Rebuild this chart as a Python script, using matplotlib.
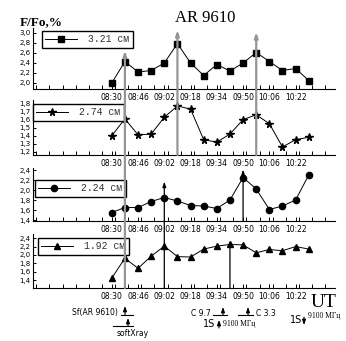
import matplotlib
matplotlib.use('Agg')
import matplotlib.pyplot as plt
from matplotlib.patches import ConnectionPatch
from matplotlib.ticker import FuncFormatter, MultipleLocator

W, H = 346, 341

# observation times (UT) and relative flux F/Fo for the four wavelengths
times = ['08:30', '08:38', '08:46', '08:54', '09:02', '09:10', '09:18', '09:26',
         '09:34', '09:42', '09:50', '09:58', '10:06', '10:14', '10:22', '10:30']
flux_321 = [2.00, 2.43, 2.22, 2.25, 2.40, 2.79, 2.40, 2.15,
            2.37, 2.24, 2.40, 2.61, 2.43, 2.25, 2.29, 2.05]
flux_274 = [1.40, 1.61, 1.41, 1.42, 1.63, 1.77, 1.73, 1.35,
            1.32, 1.42, 1.60, 1.66, 1.55, 1.26, 1.35, 1.38]
flux_224 = [1.55, 1.65, 1.65, 1.77, 1.85, 1.78, 1.69, 1.68,
            1.63, 1.80, 2.25, 2.02, 1.61, 1.68, 1.80, 2.30]
flux_192 = [1.45, 1.92, 1.68, 1.97, 2.21, 1.96, 1.95, 2.14,
            2.21, 2.25, 2.24, 2.05, 2.13, 2.10, 2.20, 2.14]
labels = ['3.21 см', '2.74 см', '2.24 см', '1.92 см']
markers = ['s', '*', 'o', '^']
tick_labels = ['08:30', '08:46', '09:02', '09:18', '09:34', '09:50', '10:06', '10:22']

# event lines: time, arrow tip value, first panel, last panel
gray_events = [('08:38', 2.65, 0, 3), ('09:10', 3.06, 0, 1), ('09:58', 3.02, 0, 1)]
black_events = [('09:02', 2.17, 2, 3), ('09:50', 2.41, 2, 2), ('09:42', 2.34, 3, 3)]


def to_min(t):
    h, m = t.split(':')
    return int(h) * 60 + int(m)


x = [to_min(t) for t in times]
series = [flux_321, flux_274, flux_224, flux_192]

# panel boxes in pixels (left, top, right, bottom) and y limits
boxes = [(33, 28, 335, 88.5), (33, 99.5, 335, 155), (33, 167.5, 335, 221), (33, 234, 335, 288)]
ylims = [(1.89, 3.1), (1.16, 1.85), (1.38, 2.45), (1.21, 2.5)]
yticks = [[2.0, 2.2, 2.4, 2.6, 2.8, 3.0], [1.2, 1.3, 1.4, 1.5, 1.6, 1.7, 1.8],
          [1.4, 1.6, 1.8, 2.0, 2.2, 2.4], [1.4, 1.6, 1.8, 2.0, 2.2, 2.4]]
legend_pos = [(42, 31), (33, 104), (35, 180), (38, 238)]

fig = plt.figure(figsize=(W / 100, H / 100), dpi=100)
comma = FuncFormatter(lambda v, p: ('%.1f' % v).replace('.', ','))

axes = []
for i in range(4):
    l, t, r, b = boxes[i]
    ax = fig.add_axes([l / W, 1 - b / H, (r - l) / W, (b - t) / H])
    ax.plot(x, series[i], color='black', lw=0.7, marker=markers[i],
            ms=5.5 if markers[i] == '*' else 4.5, mfc='black', mec='black', label=labels[i])
    ax.set_xlim(462, 646)
    ax.set_ylim(*ylims[i])
    ax.set_xticks([to_min(t) for t in tick_labels])
    ax.set_xticklabels(tick_labels)
    ax.xaxis.set_minor_locator(MultipleLocator(8))
    ax.set_yticks(yticks[i])
    ax.yaxis.set_major_formatter(comma)
    for s in ['top', 'right']:
        ax.spines[s].set_visible(False)
    ax.spines['left'].set_linewidth(0.8)
    ax.spines['bottom'].set_linewidth(0.8)
    ax.tick_params(axis='x', which='both', direction='in', length=3, width=0.7,
                   labelsize=5.5, pad=3)
    ax.tick_params(axis='y', which='both', direction='in', length=2.5, width=0.7,
                   labelsize=5, pad=2)
    ax.patch.set_alpha(0)
    lx, ly = legend_pos[i]
    leg = ax.legend(loc='upper left', bbox_to_anchor=(lx / W, 1 - ly / H),
                    bbox_transform=fig.transFigure, frameon=True, fancybox=False,
                    edgecolor='black', framealpha=1, borderaxespad=0, borderpad=0.35,
                    handlelength=3.2, handletextpad=1.2,
                    prop={'family': 'Liberation Mono', 'size': 7})
    for txt in leg.get_texts():
        txt.set_color('#333333')
    axes.append(ax)


def event_line(t, tip, i0, i1, color, lw):
    xm = to_min(t)
    con = ConnectionPatch(xyA=(xm, ylims[i1][0]), coordsA=axes[i1].transData,
                          xyB=(xm, tip), coordsB=axes[i0].transData,
                          arrowstyle='-|>,head_length=0.6,head_width=0.2',
                          mutation_scale=5, color=color, lw=lw,
                          shrinkA=0, shrinkB=0, zorder=5)
    fig.add_artist(con)


for t, tip, i0, i1 in gray_events:
    event_line(t, tip, i0, i1, '#959595', 1.6)
for t, tip, i0, i1 in black_events:
    event_line(t, tip, i0, i1, 'black', 0.9)

fig.text(20 / W, 1 - 25 / H, 'F/Fo,%', family='Liberation Serif', weight='bold',
         fontsize=9.5, va='baseline')
fig.text(205 / W, 1 - 22 / H, 'AR 9610', family='Liberation Serif', fontsize=12,
         ha='center', va='baseline')
fig.text(324 / W, 1 - 307 / H, 'UT', family='Liberation Serif', fontsize=14,
         ha='center', va='baseline')


# small event marks below the bottom panel (pixel positions)
def px(xp, yp):
    return (xp / W, 1 - yp / H)


def mark(xp, y0, y1):
    fig.add_artist(ConnectionPatch(xyA=px(xp, y0), xyB=px(xp, y1), coordsA='figure fraction',
                                   coordsB='figure fraction',
                                   arrowstyle='-|>,head_length=0.5,head_width=0.18',
                                   mutation_scale=6, color='black', lw=0.8))


def hline(x0, x1, yp):
    fig.add_artist(plt.Line2D([x0 / W, x1 / W], [1 - yp / H, 1 - yp / H],
                              transform=fig.transFigure, color='black', lw=0.8))


small = dict(family='DejaVu Sans', fontsize=5.5, va='center')
fig.text(*px(118, 313), 'Sf(AR 9610)', ha='right', **small)
hline(121, 133, 315)
mark(125, 315, 306)
hline(113, 133, 326)
mark(128, 326, 318)
fig.text(*px(133, 333), 'softXray', ha='center', **small)

fig.text(*px(211, 313), 'C 9.7', ha='right', **small)
hline(213, 227, 315)
mark(223, 315, 307)
hline(238, 253, 315)
mark(248, 315, 307)
fig.text(*px(256, 313), 'C 3.3', ha='left', **small)

fig.text(*px(203, 324), '1S', family='DejaVu Sans', fontsize=7, va='center')
mark(219, 328, 320)
fig.text(*px(223, 324), '9100 МГц', family='Liberation Serif', fontsize=5.5, va='center')

fig.text(*px(290, 320), '1S', family='DejaVu Sans', fontsize=7, va='center')
mark(304, 317, 325)
fig.text(*px(308, 316), '9100 МГц', family='Liberation Serif', fontsize=5.5, va='center')

fig.savefig('out.png', dpi=100)
